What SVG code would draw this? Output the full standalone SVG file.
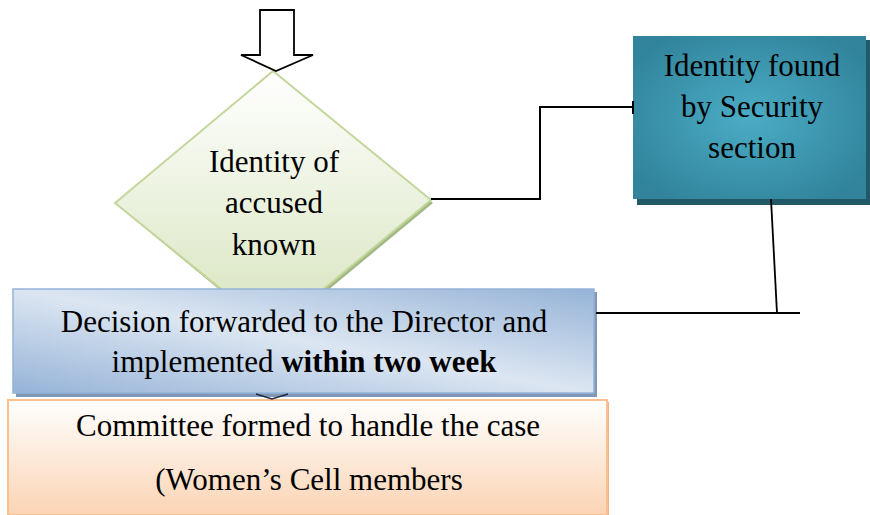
<svg xmlns="http://www.w3.org/2000/svg" width="870" height="515" viewBox="0 0 870 515" font-family="'Liberation Serif', 'DejaVu Serif', serif">
<style>
  .t{font-family:'Liberation Serif','DejaVu Serif',serif;font-size:31px;fill:#000;text-anchor:middle}
  .ln{fill:none;stroke:#000;stroke-width:2}
</style>
<defs>
  <linearGradient id="gGreen" x1="0" y1="0" x2="0" y2="1">
    <stop offset="0" stop-color="#ffffff"/>
    <stop offset="1" stop-color="#d7e4bd"/>
  </linearGradient>
  <linearGradient id="gBlue" x1="0" y1="1" x2="1" y2="0">
    <stop offset="0" stop-color="#95b3d7"/>
    <stop offset="0.5" stop-color="#dce6f2"/>
    <stop offset="1" stop-color="#95b3d7"/>
  </linearGradient>
  <linearGradient id="gOrange" x1="0" y1="0" x2="0" y2="1">
    <stop offset="0" stop-color="#ffffff"/>
    <stop offset="1" stop-color="#fbd4b4"/>
  </linearGradient>
  <radialGradient id="gTeal" cx="0.5" cy="0.5" r="0.6">
    <stop offset="0" stop-color="#4bacc6"/>
    <stop offset="1" stop-color="#31849b"/>
  </radialGradient>
</defs>
<rect width="870" height="515" fill="#ffffff"/>

<g id="node-decision">
  <polygon points="274,73 433,203 274,335 117,205" fill="#a3b985"/>
  <polygon points="273,71 431,200 273,331 115,203" fill="url(#gGreen)" stroke="#c3d69b" stroke-width="2"/>
  <text class="t" font-family="Liberation Serif" x="274" y="172">Identity of</text>
  <text class="t" font-family="Liberation Serif" x="274" y="213">accused</text>
  <text class="t" font-family="Liberation Serif" x="274" y="255">known</text>
</g>

<g id="node-security">
  <rect x="637" y="40" width="233" height="165" fill="#215967"/>
  <rect x="633" y="36" width="233" height="163" fill="url(#gTeal)"/>
  <text class="t" font-family="Liberation Serif" x="752" y="76">Identity found</text>
  <text class="t" font-family="Liberation Serif" x="752" y="117">by Security</text>
  <text class="t" font-family="Liberation Serif" x="752" y="158">section</text>
</g>

<g id="node-director">
  <rect x="16" y="292" width="581" height="105" fill="#8197b8"/>
  <rect x="13" y="289" width="581" height="104" fill="url(#gBlue)" stroke="#95b3d7" stroke-width="1.5"/>
  <text class="t" font-family="Liberation Serif" x="304" y="332">Decision forwarded to the Director and</text>
  <text class="t" font-family="Liberation Serif" x="304" y="372">implemented <tspan font-weight="bold">within two week</tspan></text>
</g>

<g id="node-committee">
  <rect x="10" y="402" width="599" height="115" fill="#f4b183"/>
  <rect x="8" y="400" width="599" height="115" fill="url(#gOrange)" stroke="#fac090" stroke-width="2"/>
  <text class="t" font-family="Liberation Serif" x="308" y="436">Committee formed to handle the case</text>
  <text class="t" font-family="Liberation Serif" x="309" y="490">(Women’s Cell members</text>
</g>

<g id="connectors">
  <polygon points="260,10 294,10 294,55 313,55 276,71 241,55 260,55" fill="#ffffff" stroke="#000" stroke-width="1.8" stroke-linejoin="miter"/>
  <polyline class="ln" points="431,199 540,199 540,107 633,107"/>
  <line class="ln" x1="633" y1="101" x2="633" y2="114"/>
  <line x1="771" y1="199" x2="777" y2="313" stroke="#000" stroke-width="1.8"/>
  <line class="ln" x1="596" y1="313" x2="800" y2="313"/>
  <polyline points="256,394 272,399 288,394" fill="none" stroke="#1f2a44" stroke-width="1.5"/>
</g>
</svg>
